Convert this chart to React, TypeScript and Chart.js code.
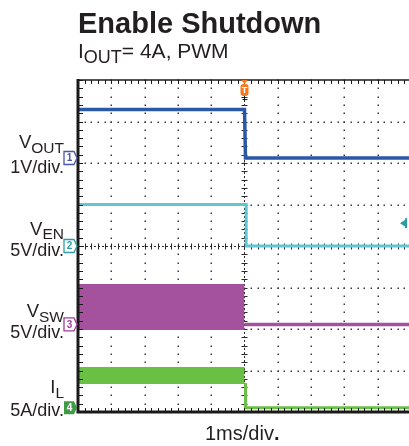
import React, { useEffect, useRef } from 'react';
import { Chart, registerables } from 'chart.js';

Chart.register(...registerables);

const W = 409;
const H = 446;

// Time axis in ms (1 ms/div), trigger at t = 0
const timeMin = -5;
const timeMax = 4.94;
const vDivs = 8;

// Channel ground markers (divisions above bottom) and vertical scale (unit/div)
const chOffsets = [6.12, 4.0, 2.11, 0.1];
const chScales = [1, 5, 5, 5];
const chColors = ['#2b57a7', '#5fc6d2', '#a4529e', '#6abf45'];
const chMarkerColors = ['#4a56a6', '#2a9fa3', '#a03c9c', '#3f9a44'];
const chNames = ['1', '2', '3', '4'];

// V_OUT (V)
const vOutTime = [-5, 0, 0.03, 5];
const vOutVolts = [1.17, 1.17, 0, 0];

// V_EN (V)
const vEnTime = [-5, 0.05, 0.05, 5];
const vEnVolts = [5, 5, 0, 0];

// V_SW (V): switching burst envelope, then off
const vSwBurstTime = [-5, 0];
const vSwHigh = [4.75, 4.75];
const vSwLow = [-0.55, -0.55];
const vSwOffTime = [0, 5];
const vSwOff = [0, 0];

// I_L (A): ripple envelope, then off
const iLBurstTime = [-5, 0];
const iLHigh = [4.8, 4.8];
const iLLow = [3.0, 3.0];
const iLOffTime = [0.03, 0.03, 5];
const iLOff = [3.0, 0, 0];

// Trigger level on channel 2 (V)
const triggerLevelVolts = 2.75;

const pts = (times: number[], vals: number[], ch: number) =>
  times.map((t, i) => ({ x: t, y: chOffsets[ch] + vals[i] / chScales[ch] }));

const scopePlugin = {
  id: 'scopeGrid',
  beforeDatasetsDraw(chart: any) {
    const { ctx, chartArea, scales } = chart;
    const x = scales.x;
    const y = scales.y;
    ctx.save();
    ctx.fillStyle = '#3a3a3a';
    // dotted vertical grid lines
    for (let i = -4; i <= 5; i++) {
      if (i === 0) continue;
      const px = Math.round(x.getPixelForValue(i));
      if (px > chartArea.right) continue;
      for (let j = 0; j <= vDivs * 5; j++) {
        const py = Math.round(y.getPixelForValue(j / 5));
        ctx.fillRect(px - 0.5, py - 0.5, 1.5, 1.5);
      }
    }
    // dotted horizontal grid lines
    for (let j = 1; j < vDivs; j++) {
      if (j === 4) continue;
      const py = Math.round(y.getPixelForValue(j));
      for (let i = 0; i <= 50; i++) {
        const px = Math.round(x.getPixelForValue(timeMin + i / 5));
        if (px > chartArea.right) continue;
        ctx.fillRect(px - 0.5, py - 0.5, 1.5, 1.5);
      }
    }
    // centre crosshair
    ctx.strokeStyle = '#2a2a2a';
    ctx.lineWidth = 1;
    const cy = Math.round(y.getPixelForValue(4)) + 0.5;
    const cx = Math.round(x.getPixelForValue(0)) + 0.5;
    ctx.setLineDash([2, 2]);
    ctx.beginPath();
    ctx.moveTo(chartArea.left, cy);
    ctx.lineTo(chartArea.right, cy);
    ctx.moveTo(cx, chartArea.top);
    ctx.lineTo(cx, chartArea.bottom);
    ctx.stroke();
    ctx.setLineDash([]);
    ctx.beginPath();
    for (let i = 0; i <= 50; i++) {
      const px = Math.round(x.getPixelForValue(timeMin + i / 5)) + 0.5;
      if (px > chartArea.right) continue;
      ctx.moveTo(px, cy - 3);
      ctx.lineTo(px, cy + 3);
    }
    for (let j = 0; j <= vDivs * 5; j++) {
      const py = Math.round(y.getPixelForValue(j / 5)) + 0.5;
      ctx.moveTo(cx - 3, py);
      ctx.lineTo(cx + 3, py);
    }
    ctx.stroke();
    ctx.restore();
  },
  afterDatasetsDraw(chart: any) {
    const { ctx, chartArea, scales } = chart;
    const x = scales.x;
    const y = scales.y;
    ctx.save();
    // border ticks
    ctx.strokeStyle = '#1a1a1a';
    ctx.lineWidth = 1;
    ctx.beginPath();
    for (let j = 0; j <= vDivs * 5; j++) {
      const py = Math.round(y.getPixelForValue(j / 5)) + 0.5;
      ctx.moveTo(chartArea.left, py);
      ctx.lineTo(chartArea.left + 5, py);
    }
    for (let i = 0; i <= 50; i++) {
      const px = Math.round(x.getPixelForValue(timeMin + i / 5)) + 0.5;
      if (px > chartArea.right) continue;
      ctx.moveTo(px, chartArea.top);
      ctx.lineTo(px, chartArea.top + 4);
      ctx.moveTo(px, chartArea.bottom);
      ctx.lineTo(px, chartArea.bottom - 4);
    }
    ctx.stroke();
    // border
    ctx.strokeStyle = '#1a1a1a';
    ctx.lineWidth = 1.5;
    ctx.beginPath();
    ctx.moveTo(chartArea.left, chartArea.top);
    ctx.lineTo(chartArea.right, chartArea.top);
    ctx.stroke();
    ctx.lineWidth = 3;
    ctx.beginPath();
    ctx.moveTo(chartArea.left, chartArea.top - 1);
    ctx.lineTo(chartArea.left, chartArea.bottom);
    ctx.lineTo(chartArea.right, chartArea.bottom);
    ctx.stroke();

    // channel ground markers
    for (let c = 0; c < 4; c++) {
      const py = y.getPixelForValue(chOffsets[c]);
      const x0 = chartArea.left - 14;
      const x1 = chartArea.left - 4;
      const h = 6.5;
      ctx.beginPath();
      ctx.moveTo(x0, py - h);
      ctx.lineTo(x1, py - h);
      ctx.lineTo(x1 + 3, py);
      ctx.lineTo(x1, py + h);
      ctx.lineTo(x0, py + h);
      ctx.closePath();
      if (c === 3) {
        ctx.fillStyle = chMarkerColors[c];
        ctx.fill();
      } else {
        ctx.fillStyle = '#ffffff';
        ctx.fill();
        ctx.strokeStyle = chMarkerColors[c];
        ctx.lineWidth = 1.3;
        ctx.stroke();
      }
      ctx.fillStyle = c === 3 ? '#ffffff' : chMarkerColors[c];
      ctx.font = 'bold 10px "Liberation Sans", Arial, sans-serif';
      ctx.textAlign = 'center';
      ctx.textBaseline = 'middle';
      ctx.fillText(chNames[c], x0 + 5.5, py + 0.5);
    }

    // trigger position marker
    const tx = x.getPixelForValue(0);
    const ty = chartArea.top;
    ctx.fillStyle = '#f47b20';
    ctx.beginPath();
    ctx.moveTo(tx - 3.5, ty);
    ctx.lineTo(tx + 3.5, ty);
    ctx.lineTo(tx, ty + 4);
    ctx.closePath();
    ctx.fill();
    ctx.beginPath();
    ctx.roundRect(tx - 4, ty + 4, 8, 12, 3);
    ctx.fill();
    ctx.fillStyle = '#ffffff';
    ctx.font = 'bold 9px "Liberation Sans", Arial, sans-serif';
    ctx.textAlign = 'center';
    ctx.textBaseline = 'middle';
    ctx.fillText('T', tx, ty + 10.5);
    ctx.strokeStyle = '#1a1a1a';
    ctx.lineWidth = 1;
    ctx.beginPath();
    ctx.moveTo(Math.round(tx) + 0.5, ty + 16);
    ctx.lineTo(Math.round(tx) + 0.5, ty + 22);
    ctx.moveTo(tx - 2, ty + 19.5);
    ctx.lineTo(tx + 3, ty + 19.5);
    ctx.stroke();

    // trigger level marker
    const ly = y.getPixelForValue(chOffsets[1] + triggerLevelVolts / chScales[1]);
    const lx = chartArea.right - 3;
    ctx.fillStyle = chMarkerColors[1];
    ctx.beginPath();
    ctx.moveTo(lx - 6, ly);
    ctx.lineTo(lx, ly - 4);
    ctx.lineTo(lx, ly + 4);
    ctx.closePath();
    ctx.fill();
    ctx.fillRect(lx - 1, ly - 5, 2, 10);
    ctx.restore();
  },
};

const lineDs = (label: string, data: any[], color: string, width: number, extra: any = {}) => ({
  label,
  data,
  borderColor: color,
  backgroundColor: color,
  borderWidth: width,
  pointRadius: 0,
  tension: 0,
  fill: false,
  ...extra,
});

function ScopeChart() {
  const ref = useRef<HTMLCanvasElement | null>(null);
  useEffect(() => {
    if (!ref.current) return;
    const chart = new Chart(ref.current, {
      type: 'line',
      data: {
        datasets: [
          lineDs('VSW high', pts(vSwBurstTime, vSwHigh, 2), chColors[2], 2, { fill: '+1' }),
          lineDs('VSW low', pts(vSwBurstTime, vSwLow, 2), chColors[2], 2),
          lineDs('VSW off', pts(vSwOffTime, vSwOff, 2), chColors[2], 3.5),
          lineDs('IL high', pts(iLBurstTime, iLHigh, 3), chColors[3], 2, { fill: '+1' }),
          lineDs('IL low', pts(iLBurstTime, iLLow, 3), chColors[3], 2),
          lineDs('IL off', pts(iLOffTime, iLOff, 3), chColors[3], 3),
          lineDs('VEN', pts(vEnTime, vEnVolts, 1), chColors[1], 3),
          lineDs('VOUT', pts(vOutTime, vOutVolts, 0), chColors[0], 3.5),
        ],
      },
      options: {
        responsive: false,
        animation: false,
        events: [],
        layout: { padding: { left: 78, top: 80, right: 0, bottom: 34 } },
        scales: {
          x: { type: 'linear', min: timeMin, max: timeMax, display: false },
          y: { type: 'linear', min: 0, max: vDivs, display: false },
        },
        plugins: { legend: { display: false }, tooltip: { enabled: false }, title: { display: false } },
      },
      plugins: [scopePlugin],
    });
    return () => chart.destroy();
  }, []);
  return <canvas ref={ref} width={W} height={H} style={{ position: 'absolute', left: 0, top: 0 }} />;
}

const font = '"Liberation Sans", Arial, Helvetica, sans-serif';
const ink = '#231f20';

function Txt(props: { top: number; left?: number; right?: boolean; size: number; bold?: boolean; children: any }) {
  const style: any = {
    position: 'absolute',
    top: props.top,
    fontFamily: font,
    fontSize: props.size,
    fontWeight: props.bold ? 'bold' : 'normal',
    lineHeight: 1,
    whiteSpace: 'nowrap',
    color: ink,
  };
  if (props.right) {
    style.left = 0;
    style.width = 64;
    style.textAlign = 'right';
  } else {
    style.left = props.left;
  }
  return <div style={style}>{props.children}</div>;
}

const Sub = (p: { size: number; dy: number; children: any }) => (
  <span style={{ fontSize: p.size, position: 'relative', top: p.dy }}>{p.children}</span>
);

export default function App() {
  return (
    <div style={{ position: 'absolute', left: 0, top: 0, width: W, height: H, background: '#ffffff', overflow: 'hidden' }}>
      <ScopeChart />
      <Txt top={8.5} left={78} size={29} bold>Enable Shutdown</Txt>
      <Txt top={40.2} left={78} size={21}>
        I<Sub size={18} dy={5}>OUT</Sub>= 4A, PWM
      </Txt>
      <Txt top={132.5} right size={18.5}>
        V<Sub size={15.5} dy={5}>OUT</Sub>
      </Txt>
      <Txt top={158} right size={18}>1V/div.</Txt>
      <Txt top={219.5} right size={18.5}>
        V<Sub size={15.5} dy={4}>EN</Sub>
      </Txt>
      <Txt top={241} right size={18}>5V/div.</Txt>
      <Txt top={301.5} right size={18.5}>
        V<Sub size={15.5} dy={5}>SW</Sub>
      </Txt>
      <Txt top={323} right size={18}>5V/div.</Txt>
      <Txt top={377.5} right size={18.5}>
        I<Sub size={15.5} dy={5}>L</Sub>
      </Txt>
      <Txt top={401} right size={18}>5A/div.</Txt>
      <Txt top={423} left={205} size={20}>
        1ms/div<b>.</b>
      </Txt>
    </div>
  );
}
